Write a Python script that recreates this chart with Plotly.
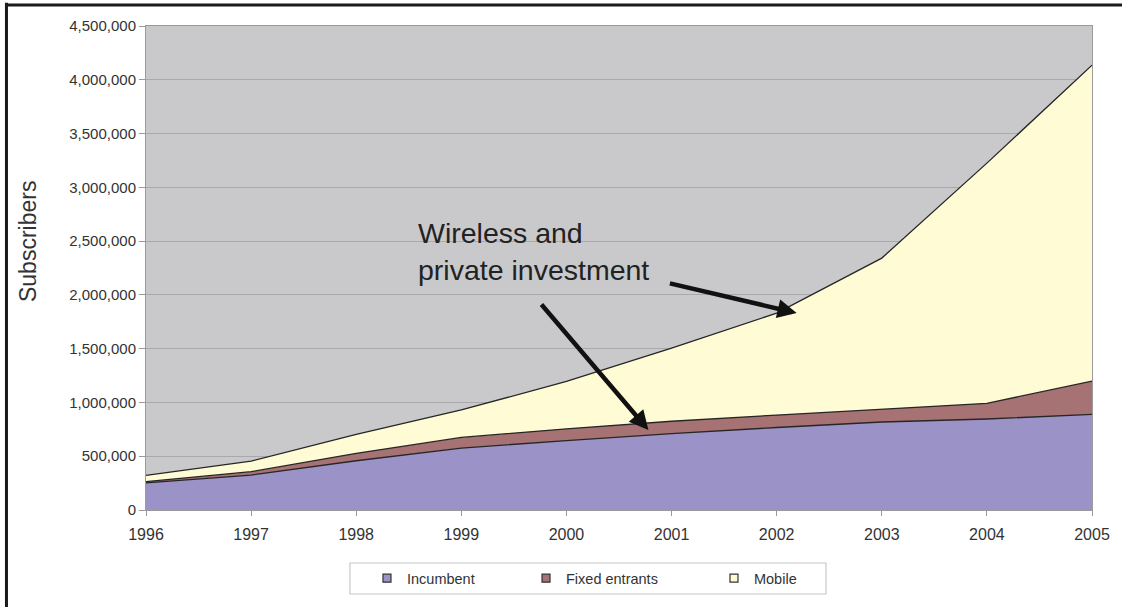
import plotly.graph_objects as go

years = [1996, 1997, 1998, 1999, 2000, 2001, 2002, 2003, 2004, 2005]
incumbent = [252000, 325000, 458000, 576000, 645000, 710000, 767000, 818000, 846000, 889000]
fixed_entrants = [12000, 31000, 69000, 99000, 110000, 115000, 116000, 117000, 146000, 310000]
mobile = [58000, 99000, 176000, 255000, 440000, 680000, 947000, 1407000, 2233000, 2937000]

series_names = ["Incumbent", "Fixed entrants", "Mobile"]
series_values = [incumbent, fixed_entrants, mobile]
series_colors = ["#9b93c8", "#a67274", "#fffbd5"]

font_family = "Liberation Sans, Arial, sans-serif"

fig = go.Figure()
for name, vals, col in zip(series_names, series_values, series_colors):
    fig.add_trace(go.Scatter(
        x=years, y=vals, name=name, stackgroup="one", mode="lines",
        fillcolor=col, line=dict(color="#262626", width=1.3),
        showlegend=False, hoverinfo="x+y+name"))

# legend entries (one legend per entry so the spacing can follow the original)
legend_ids = ["legend", "legend2", "legend3"]
legend_x = [0.2336, 0.4017, 0.6004]
for name, col, lid in zip(series_names, series_colors, legend_ids):
    fig.add_trace(go.Scatter(
        x=[None], y=[None], name=name, mode="markers", legend=lid,
        marker=dict(symbol="square", size=8, color=col,
                    line=dict(color="#333333", width=1.2))))

fig.add_annotation(
    x=1998.57, y=2745000, xref="x", yref="y",
    text="Wireless and<br>private investment", showarrow=False,
    xanchor="left", yanchor="top", align="left",
    font=dict(family=font_family, size=28.5, color="#222222"))

# y-axis title (placed as in the original, above the axis centre)
fig.add_annotation(
    x=-0.1247, y=0.5537, xref="paper", yref="paper",
    text="Subscribers", showarrow=False, textangle=-90,
    xanchor="center", yanchor="middle",
    font=dict(family=font_family, size=23, color="#333333"))

# arrows
fig.add_annotation(x=2002.19, y=1831000, ax=2000.97, ay=2110000,
                   xref="x", yref="y", axref="x", ayref="y", text="",
                   showarrow=True, arrowhead=2, arrowsize=0.85,
                   arrowwidth=4.5, arrowcolor="#111111", standoff=0)
fig.add_annotation(x=2000.78, y=744000, ax=1999.75, ay=1924000,
                   xref="x", yref="y", axref="x", ayref="y", text="",
                   showarrow=True, arrowhead=2, arrowsize=0.85,
                   arrowwidth=4.5, arrowcolor="#111111", standoff=0)

# outer frame (left and top edges of the original image)
fig.add_shape(type="line", xref="paper", yref="paper",
              x0=-0.1475, x1=-0.1475, y0=1.048, y1=-0.21,
              line=dict(color="#1a1a1a", width=3))
fig.add_shape(type="line", xref="paper", yref="paper",
              x0=-0.149, x1=1.0317, y0=1.0434, y1=1.0434,
              line=dict(color="#1a1a1a", width=3))
# legend box
fig.add_shape(type="rect", xref="paper", yref="paper",
              x0=0.2156, x1=0.7188, y0=-0.1736, y1=-0.1095,
              line=dict(color="#c8c8c8", width=1.2), fillcolor="white",
              layer="below")

legend_common = dict(orientation="h", xanchor="left", y=-0.108,
                     yanchor="top", borderwidth=0,
                     bgcolor="rgba(0,0,0,0)", traceorder="normal",
                     font=dict(family=font_family, size=14.5,
                               color="#333333"))

fig.update_layout(
    width=1122, height=607,
    margin=dict(l=146, r=30, t=26, b=97),
    paper_bgcolor="white", plot_bgcolor="#c9c9cb",
    font=dict(family=font_family, size=15, color="#333333"),
    legend=dict(x=legend_x[0], **legend_common),
    legend2=dict(x=legend_x[1], **legend_common),
    legend3=dict(x=legend_x[2], **legend_common),
    xaxis=dict(range=[1996, 2005], dtick=1, tickmode="linear",
               showgrid=False, showline=True, linecolor="#9a9a9a",
               linewidth=1, mirror=True, ticks="outside", ticklen=5,
               tickcolor="#9a9a9a", zeroline=False, ticklabelstandoff=5,
               tickfont=dict(size=16, color="#333333")),
    yaxis=dict(range=[0, 4500000], dtick=500000, tickformat=",d",
               showgrid=True, gridcolor="#a9a9ab", gridwidth=1,
               showline=True, linecolor="#9a9a9a", linewidth=1,
               mirror=True, ticks="outside", ticklen=6,
               tickcolor="#9a9a9a", zeroline=False,
               tickfont=dict(size=15, color="#333333")),
)

fig.write_html("out.html",
               config={"displayModeBar": False},
               post_script="document.body.style.margin='0';"
                           "document.body.style.padding='0';")
